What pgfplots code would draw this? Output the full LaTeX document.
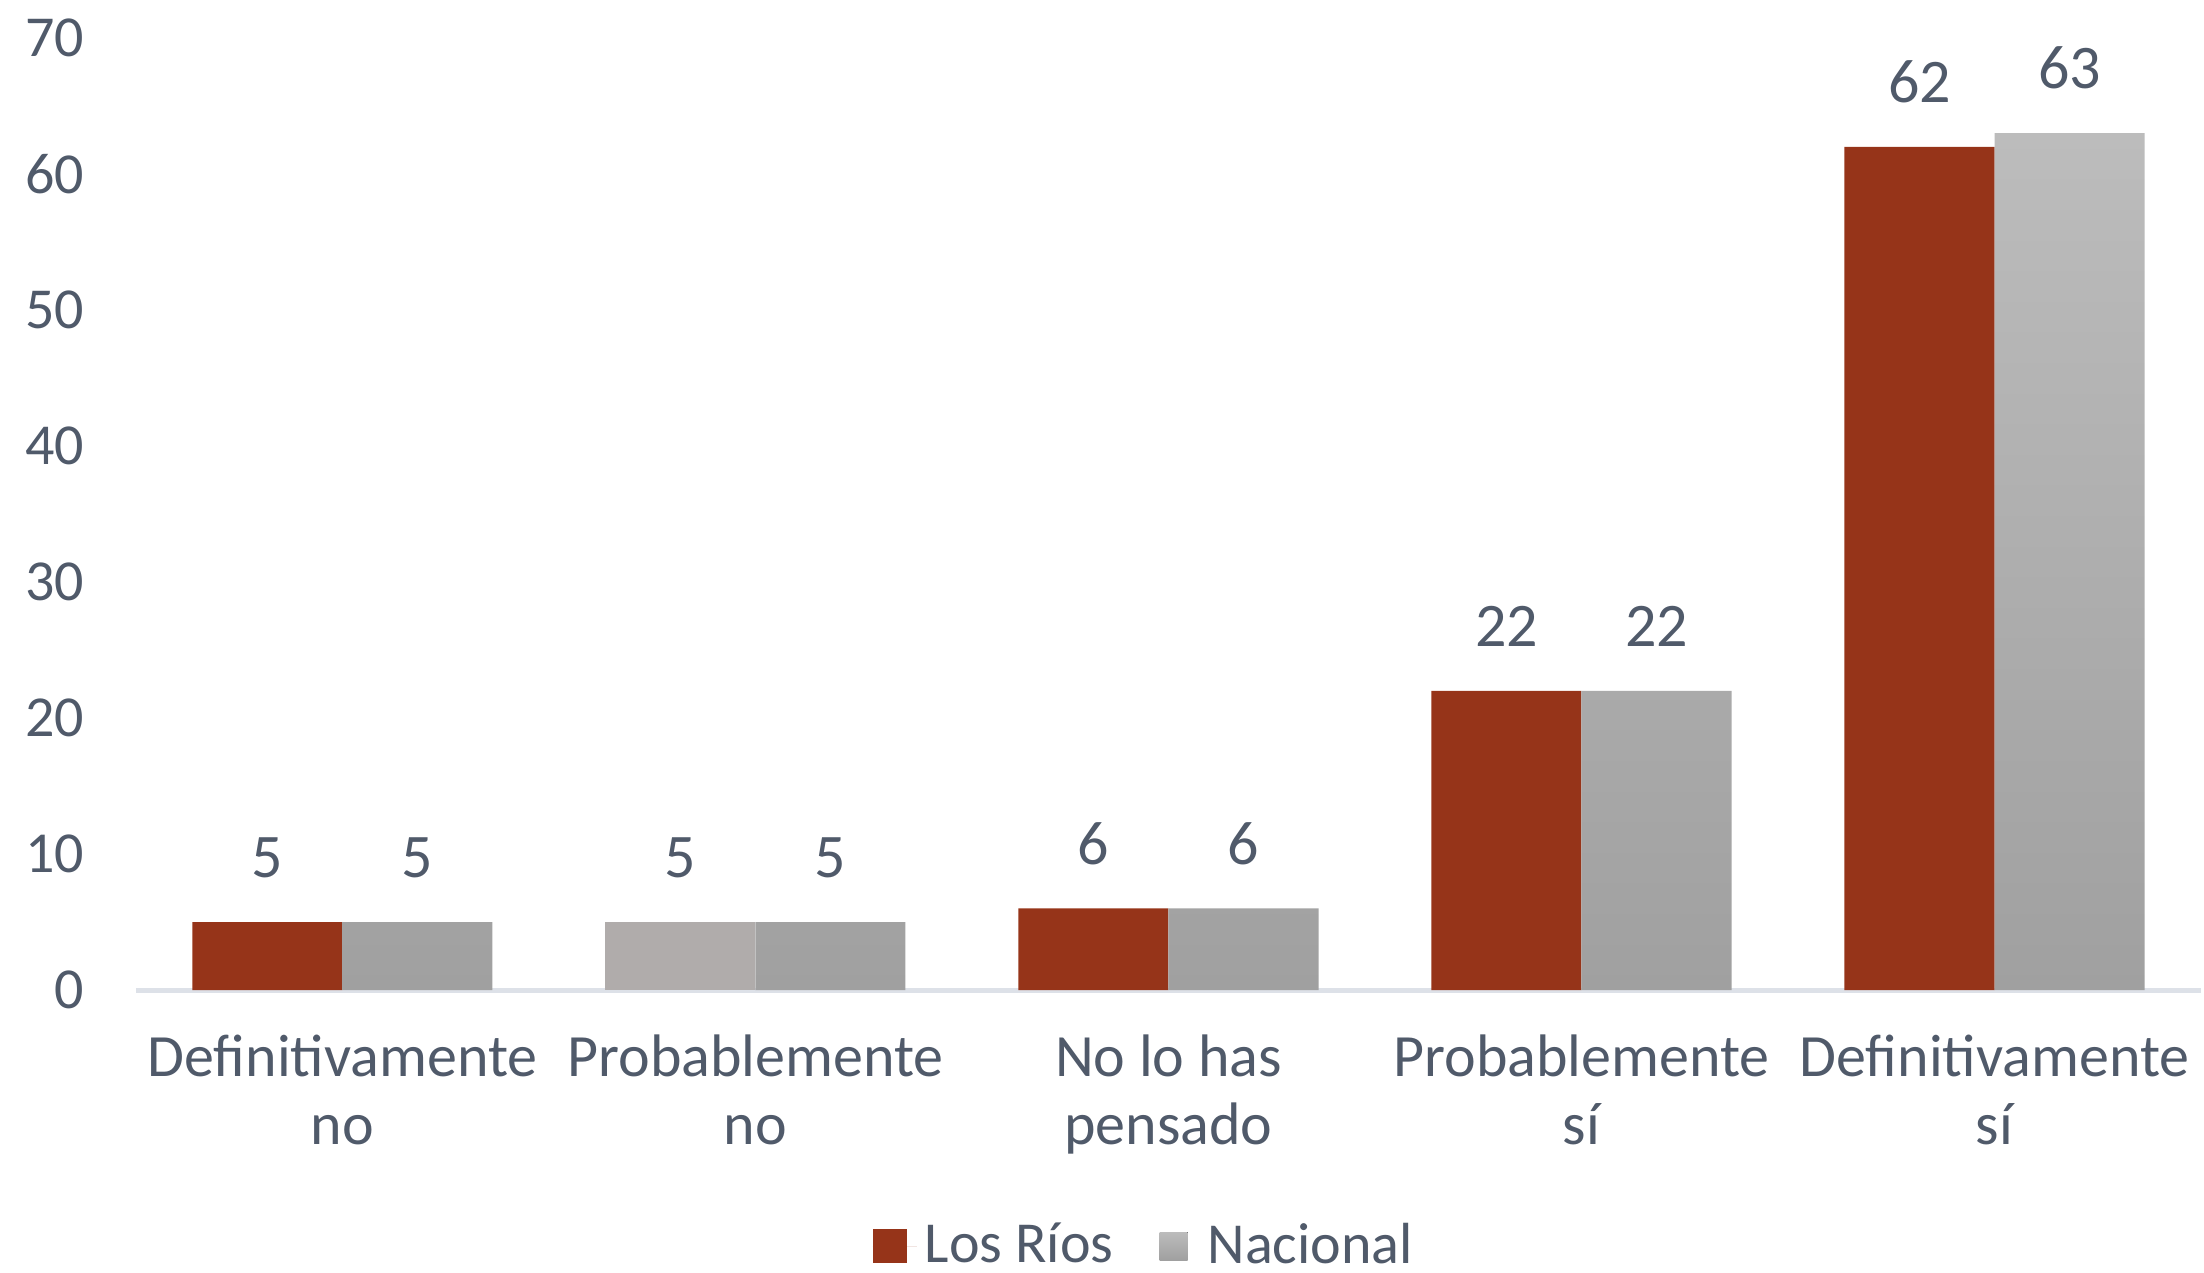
\documentclass[border=0pt]{standalone}
\usepackage{pgfplots}
\pgfplotsset{compat=1.18}
\usepackage{fontspec}
\setmainfont{Carlito}
\definecolor{rios}{HTML}{963419}
\definecolor{riosgray}{HTML}{B0ACAB}
\definecolor{nactop}{HTML}{BCBCBC}
\definecolor{nacbot}{HTML}{A0A0A0}
\definecolor{txt}{HTML}{505A6A}
\definecolor{axline}{HTML}{DDE1E8}
\begin{document}
\begin{tikzpicture}
\path[use as bounding box] (-34pt,-70.75pt) rectangle (517pt,247.5pt);
\begin{axis}[
  at={(0,0)}, anchor=south west,
  scale only axis, width=516.25pt, height=238pt,
  xmin=-0.5, xmax=4.5, ymin=0, ymax=70,
  ytick={0,10,...,70},
  xtick={0,1,2,3,4},
  xticklabels={{Definitivamente\\no},{Probablemente\\no},{No lo has\\pensado},{Probablemente\\sí},{Definitivamente\\sí}},
  /pgf/number format/assume math mode=true,
  axis x line*=bottom, axis y line*=left,
  axis line style={-},
  x axis line style={draw=axline, line width=1.25pt},
  y axis line style={draw=none},
  major tick length=0pt,
  tick style={draw=none},
  xticklabel style={align=center, font=\fontsize{15}{16.9}\selectfont, text=txt, yshift=-7.75pt},
  yticklabel style={font=\fontsize{14.5}{16}\selectfont, text=txt, xshift=-9.5pt},
  nodes near coords,
  nodes near coords style={font=\fontsize{15.5}{17}\selectfont, text=txt, inner sep=0pt, anchor=south, yshift=10.75pt},
  legend style={at={(0.4895,0)}, anchor=center, yshift=-64pt, draw=none,
    legend columns=2, font=\fontsize{14.5}{16}\selectfont, text=txt,
    /tikz/every even column/.style={column sep=9.5pt}},
]
\addplot[ybar, bar width=37.5pt, bar shift=-18.75pt, fill=rios, draw=none,
  every node near coord/.append style={xshift=-18.75pt},
  legend image code/.code={\fill[rios] (0pt,-4.25pt) rectangle (8.5pt,4.25pt); \path (0pt,0pt) -- (11pt,0pt);}]
  coordinates {(0,5) (2,6) (3,22) (4,62)};
\addlegendentry{Los Ríos}
\addplot[ybar, bar width=37.5pt, bar shift=18.75pt, top color=nactop, bottom color=nacbot, draw=none,
  every node near coord/.append style={xshift=18.75pt},
  legend image code/.code={\fill[top color=nactop, bottom color=nacbot] (0pt,-3.5pt) rectangle (7pt,3.5pt); \path (0pt,0pt) -- (10pt,0pt);}]
  coordinates {(0,5) (1,5) (2,6) (3,22) (4,63)};
\addlegendentry{Nacional}
\addplot[ybar, bar width=37.5pt, bar shift=-18.75pt, fill=riosgray, draw=none, forget plot,
  every node near coord/.append style={xshift=-18.75pt}]
  coordinates {(1,5)};
\end{axis}
\end{tikzpicture}
\end{document}
